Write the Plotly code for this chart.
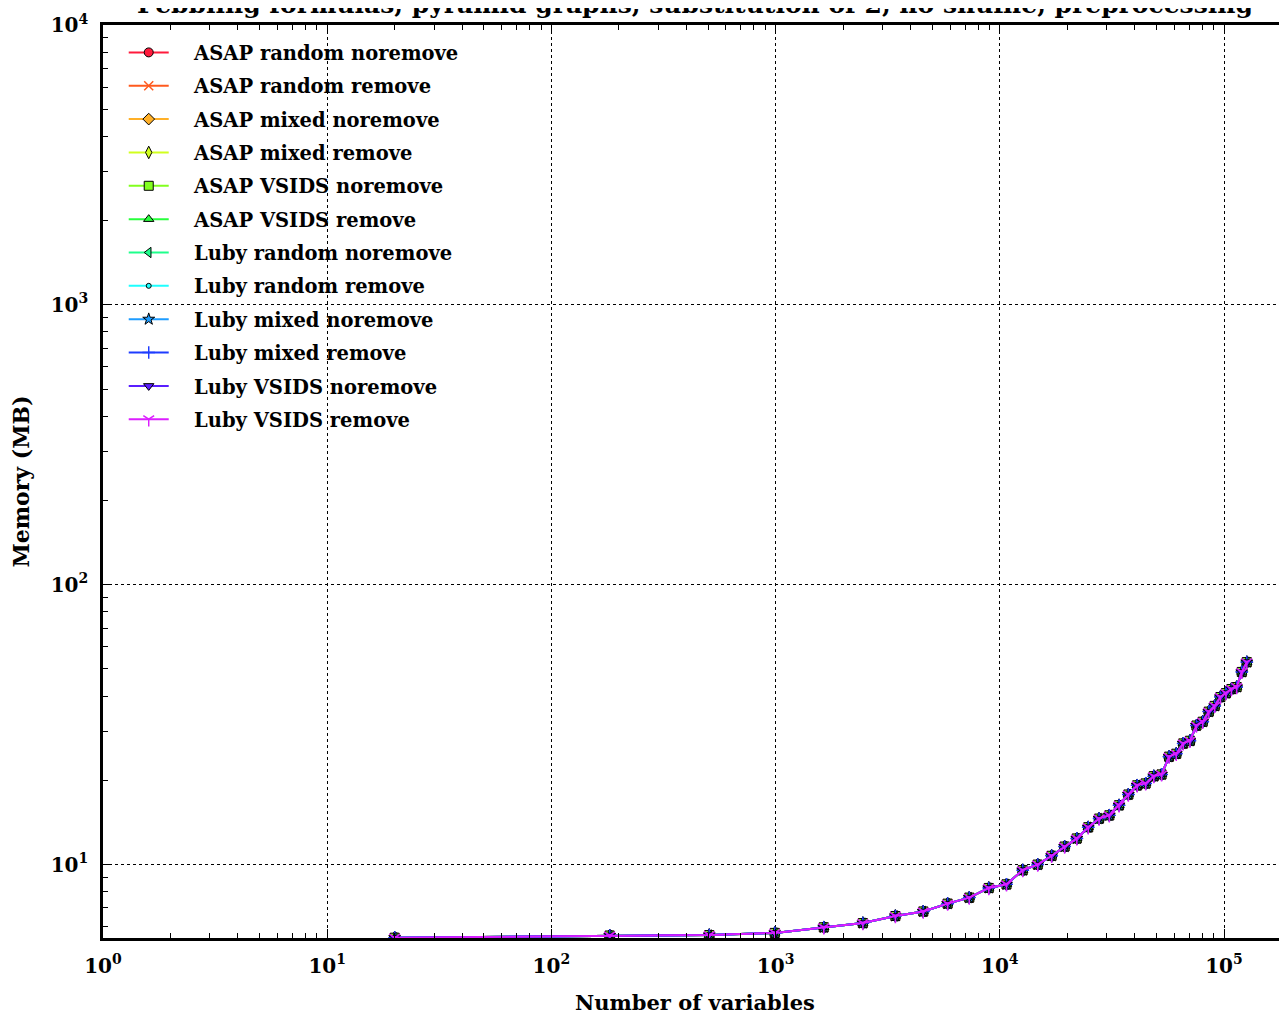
import plotly.graph_objects as go

# ---- data ----
num_variables = [20, 182, 506, 992, 1640, 2450, 3422, 4556, 5852, 7310, 8930, 10712,
                 12656, 14762, 17030, 19460, 22052, 24806, 27722, 30800, 34040, 37442,
                 41006, 44732, 48620, 52670, 56882, 61256, 65792, 70490, 75350, 80372,
                 85556, 90902, 96410, 102080, 107912, 113906, 120062, 126380]
memory_mb = [5.48, 5.58, 5.60, 5.70, 5.97, 6.18, 6.55, 6.80, 7.25, 7.62, 8.25, 8.50,
             9.55, 10.0, 10.75, 11.6, 12.4, 13.6, 14.6, 15.0, 16.3, 17.8,
             19.2, 19.5, 20.7, 21.0, 24.3, 24.9, 27.1, 27.7, 31.4, 32.4,
             35.2, 36.9, 39.7, 41.0, 42.4, 43.1, 48.8, 52.9]

series_names = ["ASAP random noremove", "ASAP random remove", "ASAP mixed noremove",
                "ASAP mixed remove", "ASAP VSIDS noremove", "ASAP VSIDS remove",
                "Luby random noremove", "Luby random remove", "Luby mixed noremove",
                "Luby mixed remove", "Luby VSIDS noremove", "Luby VSIDS remove"]
series_colors = ["#ff1a3c", "#ff5a1e", "#ffb028", "#d2ff1e", "#82ff1e", "#28ff3c",
                 "#1eff8c", "#1effff", "#1e9cff", "#1e3cff", "#5a1eff", "#dc1eff"]
series_symbols = ["circle", "x-thin", "diamond", "diamond-tall", "square", "triangle-up",
                  "triangle-left", "circle", "star", "cross-thin", "triangle-down", "y-down"]

x_tickvals = [1, 10, 100, 1000, 10000, 100000]
x_ticktext = ["10<sup>0</sup>", "10<sup>1</sup>", "10<sup>2</sup>", "10<sup>3</sup>",
              "10<sup>4</sup>", "10<sup>5</sup>"]
y_tickvals = [10, 100, 1000, 10000]
y_ticktext = ["10<sup>1</sup>", "10<sup>2</sup>", "10<sup>3</sup>", "10<sup>4</sup>"]

FONT = "DejaVu Serif"
PAD = "\u00a0" * 3  # gap between legend sample and label

fig = go.Figure()
for i, name in enumerate(series_names):
    sym = series_symbols[i]
    open_sym = sym in ("x-thin", "cross-thin", "y-down")
    size = 9
    if name == "Luby random remove":
        size = 5
    marker = dict(symbol=sym, size=size, color=series_colors[i],
                  line=dict(color=series_colors[i] if open_sym else "black",
                            width=1.5 if open_sym else 1))
    fig.add_trace(go.Scatter(
        x=num_variables, y=memory_mb, mode="lines+markers", name=PAD + name,
        legendgroup=name,
        line=dict(color=series_colors[i], width=2),
        marker=marker,
    ))

minor_x = [m * 10 ** k for k in range(0, 6) for m in range(2, 10)]
minor_y = [m * 10 ** k for k in range(0, 4) for m in range(2, 10)]

fig.update_layout(
    width=1279, height=1007,
    margin=dict(l=95, r=0, t=17, b=70),
    plot_bgcolor="white", paper_bgcolor="white",
    font=dict(family=FONT, color="black"),
    showlegend=True,
    legend=dict(x=0.0175, y=0.991, xanchor="left", yanchor="top",
                bgcolor="rgba(0,0,0,0)", borderwidth=0,
                font=dict(family=FONT, size=19.5, color="black", weight="bold"),
                traceorder="grouped", tracegroupgap=5, itemwidth=40),
    xaxis=dict(type="log", range=[0, 5.281],
               tickvals=x_tickvals, ticktext=x_ticktext,
               ticks="inside", ticklen=9, tickwidth=1, tickcolor="black",
               showline=True, linecolor="black", linewidth=2.5, mirror="ticks",
               showgrid=True, gridcolor="black", griddash="dot", gridwidth=1,
               zeroline=False, ticklabelstandoff=8,
               tickfont=dict(family=FONT, size=20, color="black", weight="bold"),
               minor=dict(tickvals=minor_x, ticks="inside", ticklen=5,
                          tickcolor="black", showgrid=False),
               title=dict(text="Number of variables", standoff=23,
                          font=dict(family=FONT, size=21, color="black", weight="bold"))),
    yaxis=dict(type="log", range=[0.7376, 4.0],
               tickvals=y_tickvals, ticktext=y_ticktext,
               ticks="inside", ticklen=9, tickwidth=1, tickcolor="black",
               showline=True, linecolor="black", linewidth=2.5, mirror=False,
               showgrid=True, gridcolor="black", griddash="dot", gridwidth=1,
               zeroline=False, ticklabelstandoff=8,
               tickfont=dict(family=FONT, size=20, color="black", weight="bold"),
               minor=dict(tickvals=minor_y, ticks="inside", ticklen=5,
                          tickcolor="black", showgrid=False),
               title=dict(text="Memory (MB)", standoff=24,
                          font=dict(family=FONT, size=22, color="black", weight="bold"))),
)

fig.add_annotation(
    text="Pebbling formulas, pyramid graphs, substitution of 2, no shuffle, preprocessing",
    xref="paper", yref="paper", x=0.5, y=1.0, xanchor="center", yanchor="bottom",
    yshift=4, showarrow=False,
    font=dict(family=FONT, size=25, color="black", weight="bold"),
)

fig.write_html("out.html")
